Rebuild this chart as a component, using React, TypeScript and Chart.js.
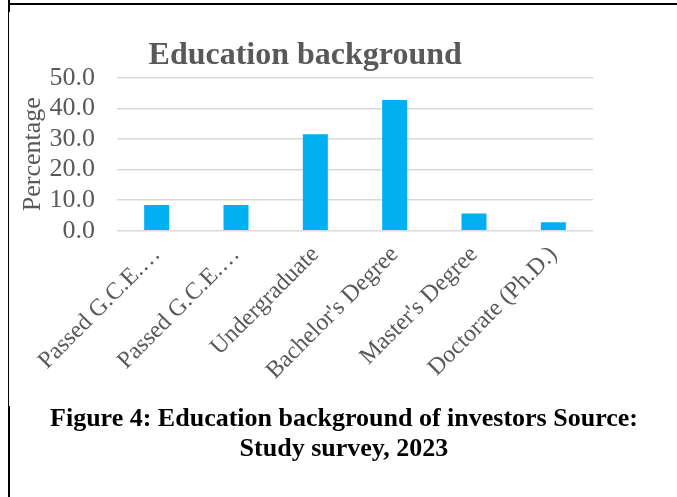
import React, { useEffect, useRef } from "react";
import { Chart, registerables } from "chart.js";

Chart.register(...registerables);

const categories = [
  "Passed G.C.E.…",
  "Passed G.C.E.…",
  "Undergraduate",
  "Bachelor's Degree",
  "Master's Degree",
  "Doctorate (Ph.D.)",
];
const percentages = [8.4, 8.4, 31.5, 42.7, 5.6, 2.8];
const yTicks = [0, 10, 20, 30, 40, 50];
const chartTitle = "Education background";
const yAxisTitle = "Percentage";
const captionLines = [
  "Figure 4: Education background of investors Source:",
  "Study survey, 2023",
];

const SERIF = "'Times New Roman', 'Liberation Serif', serif";
const GREY = "#595959";

export default function App() {
  const canvasRef = useRef<HTMLCanvasElement | null>(null);

  useEffect(() => {
    if (!canvasRef.current) return;
    const chart = new Chart(canvasRef.current, {
      type: "bar",
      data: {
        labels: categories,
        datasets: [
          {
            data: percentages,
            backgroundColor: "#00B0F0",
            borderWidth: 0,
            categoryPercentage: 1,
            barPercentage: 0.315,
          },
        ],
      },
      options: {
        animation: false,
        responsive: false,
        devicePixelRatio: 1,
        layout: { padding: { left: 8.4, right: 16, top: 0, bottom: 0 } },
        plugins: {
          legend: { display: false },
          tooltip: { enabled: false },
          title: {
            display: true,
            text: chartTitle,
            color: GREY,
            font: { family: SERIF, size: 32, weight: "bold", lineHeight: 1.2 },
            padding: { top: 30.5, bottom: 2.8 },
          },
        },
        scales: {
          x: {
            grid: { display: false },
            border: { display: false },
            ticks: {
              color: GREY,
              font: { family: SERIF, size: 24 },
              minRotation: 45,
              maxRotation: 45,
              autoSkip: false,
              padding: 2,
            },
            afterFit: (s: any) => {
              s.height = 175.3;
            },
          },
          y: {
            min: 0,
            max: 50,
            afterBuildTicks: (s: any) => {
              s.ticks = yTicks.map((v) => ({ value: v }));
            },
            ticks: {
              color: GREY,
              font: { family: SERIF, size: 26 },
              padding: 22,
              autoSkip: false,
              callback: (v: any) => Number(v).toFixed(1),
            },
            grid: { color: "#d9d9d9", lineWidth: 1.5, drawTicks: false },
            border: { display: false },
            title: {
              display: true,
              text: yAxisTitle,
              color: GREY,
              font: { family: SERIF, size: 26 },
              padding: 0,
            },
            afterFit: (s: any) => {
              s.width = 99.6;
            },
          },
        },
      },
    });
    return () => chart.destroy();
  }, []);

  return (
    <div
      style={{
        position: "absolute",
        left: 0,
        top: 0,
        width: 677,
        height: 497,
        background: "#fff",
        overflow: "hidden",
      }}
    >
      <div style={{ position: "absolute", left: 8, top: 3, width: 669, height: 2, background: "#000" }} />
      <div style={{ position: "absolute", left: 8, top: 0, width: 1, height: 497, background: "#000" }} />
      <div style={{ position: "absolute", left: 8, top: 0, width: 2, height: 12, background: "#000" }} />
      <div style={{ position: "absolute", left: 8, top: 406, width: 2, height: 91, background: "#000" }} />
      <canvas
        ref={canvasRef}
        width={600}
        height={400}
        style={{ position: "absolute", left: 9, top: 6, width: 600, height: 400 }}
      />
      <div
        style={{
          position: "absolute",
          left: 8,
          top: 403,
          width: 672,
          textAlign: "center",
          fontFamily: SERIF,
          fontWeight: "bold",
          fontSize: 26,
          lineHeight: "30px",
          color: "#000",
        }}
      >
        {captionLines.map((l, i) => (
          <div key={i}>{l}</div>
        ))}
      </div>
    </div>
  );
}
